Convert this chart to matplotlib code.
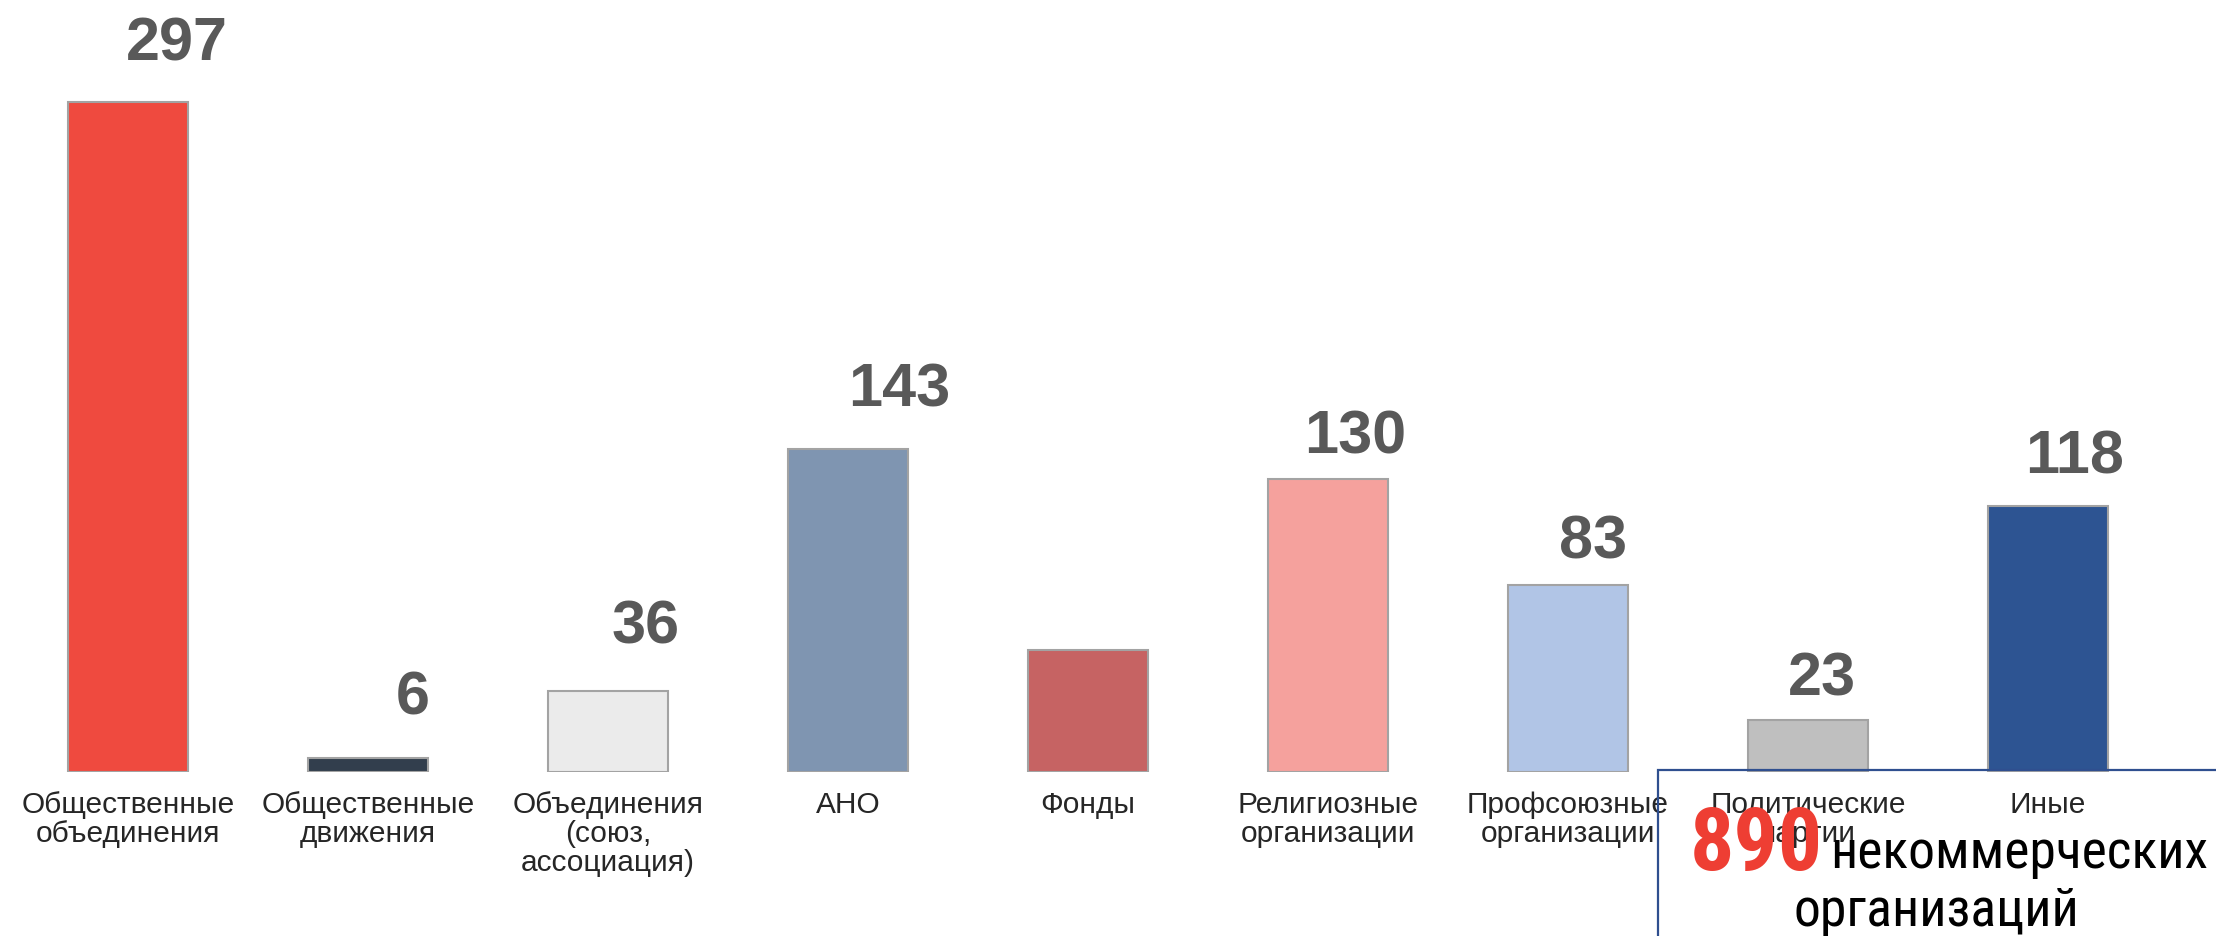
import matplotlib
matplotlib.use("Agg")
import matplotlib.pyplot as plt
from matplotlib import font_manager
from matplotlib.font_manager import FontProperties
from matplotlib.patches import Rectangle

plt.rcParams['font.family'] = ['Liberation Sans', 'DejaVu Sans']

# ---- data ----
categories = [
    "Общественные\nобъединения",
    "Общественные\nдвижения",
    "Объединения\n(союз,\nассоциация)",
    "АНО",
    "Фонды",
    "Религиозные\nорганизации",
    "Профсоюзные\nорганизации",
    "Политические\nпартии",
    "Иные",
]
values = [297, 6, 36, 143, 54, 130, 83, 23, 118]
value_labels = ["297", "6", "36", "143", "", "130", "83", "23", "118"]
total_value = "890"
total_text_1 = "некоммерческих"
total_text_2 = "организаций"

# ---- style ----
colors = ["#EF4A3F", "#323E4D", "#EBEBEB", "#7F95B1", "#C66363",
          "#F5A19D", "#B1C5E6", "#BFBFBF", "#2D5492"]
label_dx = [49, 45, 38, 51, 0, 27, 25, 14, 27]
label_dy = [58, 60, 64, 59, 0, 42, 43, 41, 49]

W, H, DPI = 2216, 937, 100
fig = plt.figure(figsize=(W / DPI, H / DPI), dpi=DPI)

base_px = 164
scale = 670 / 297
ax = fig.add_axes([0, base_px / H, 1, 1 - base_px / H])
ax.set_xlim(-128 / 240, (W - 128) / 240)
ax.set_ylim(0, (H - base_px) / scale)
x = list(range(len(values)))
ax.bar(x, values, width=0.5, color=colors, edgecolor="#A3A3A3", linewidth=1.5)

for s in ax.spines.values():
    s.set_visible(False)
ax.set_yticks([])
ax.set_xticks(x)
ax.set_xticklabels(categories, fontsize=21.5, color="#262626", linespacing=1.05)
ax.tick_params(axis="x", length=0, pad=13)

px2pt = 72 / DPI
for xi, v, lab, dx, dy in zip(x, values, value_labels, label_dx, label_dy):
    if not lab:
        continue
    ax.annotate(lab, (xi, v), xytext=(dx * px2pt, dy * px2pt),
                textcoords="offset points", ha="center", va="center",
                fontsize=44, fontweight="bold", color="#595959")


# ---- find a condensed font if one exists ----
def find_narrow(bold=False):
    cands = []
    for f in font_manager.fontManager.ttflist:
        nm = (f.name + " " + f.fname).lower()
        narrowish = ("narrow" in nm or "condensed" in nm or
                     str(f.stretch) in ("condensed", "semi-condensed", "extra-condensed"))
        if not narrowish or f.style != "normal":
            continue
        if "extra" in nm or "ultra" in nm or "semi" in nm or "semicond" in nm:
            continue
        w = f.weight if isinstance(f.weight, int) else (700 if "bold" in str(f.weight) else 400)
        if bold != (w >= 600):
            continue
        if not bold and w > 500:
            continue
        pri = 5
        for i, key in enumerate(["liberation sans narrow", "arimo", "roboto",
                                 "noto sans", "open sans", "dejavu"]):
            if key in nm:
                pri = i
                break
        cands.append((pri, f.fname))
    if cands:
        cands.sort()
        return FontProperties(fname=cands[0][1])
    return None


fp_reg = find_narrow(False)
fp_bold = find_narrow(True)

fig.patches.append(Rectangle((1658 / W, -0.05), 0.5, 1 - 771 / H + 0.05,
                             transform=fig.transFigure, fill=False,
                             edgecolor="#2F4F8F", linewidth=1.6, clip_on=False))

if fp_bold is not None:
    t0 = fig.text(1690 / W, 1 - 870 / H, total_value, fontproperties=fp_bold,
                  color="#EE3E33", ha="left", va="baseline")
else:
    t0 = fig.text(1690 / W, 1 - 870 / H, total_value, fontweight="bold",
                  color="#EE3E33", ha="left", va="baseline")
t0.set_fontsize(57)

kw = dict(fontproperties=fp_reg) if fp_reg is not None else dict(family=["Liberation Sans", "DejaVu Sans"])
t1 = fig.text(1830 / W, 1 - 868 / H, total_text_1, color="black",
              ha="left", va="baseline", **kw)
t2 = fig.text(1936 / W, 1 - 926 / H, total_text_2, color="black",
              ha="center", va="baseline", **kw)

# fit sizes to the reference widths
fig.canvas.draw()
r = fig.canvas.get_renderer()
for t, target, s in [(t0, 133, 57), (t1, 378, 40)]:
    t.set_fontsize(s)
    fig.canvas.draw()
    w = t.get_window_extent(r).width
    t.set_fontsize(s * target / w)
t2.set_fontsize(t1.get_fontsize())

fig.savefig("out.png", dpi=DPI, facecolor="white")
